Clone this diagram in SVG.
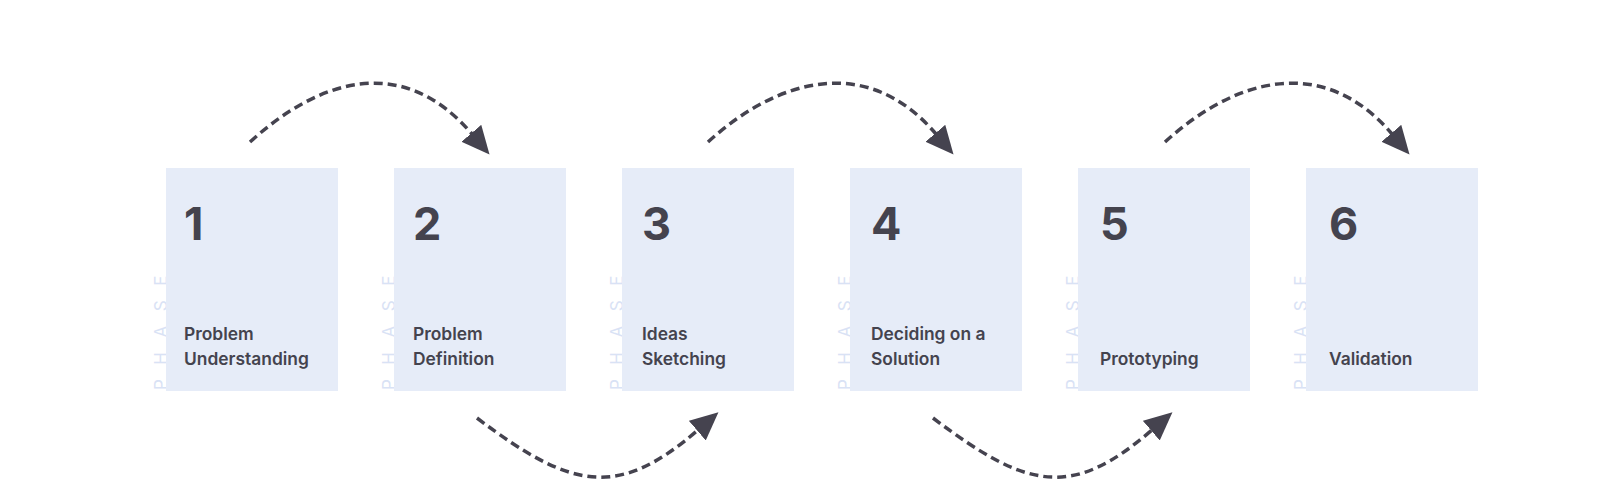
<svg xmlns="http://www.w3.org/2000/svg" width="1600" height="480" viewBox="0 0 1600 480">
  <style>
    .box { fill: #e6ecf8; }
    .phase { font-family: Inter, "Noto Sans", "DejaVu Sans", sans-serif; font-size: 17px; font-weight: 400; letter-spacing: 14.5px; fill: #d9e2f5; }
    .num { font-family: Inter, "Noto Sans", "DejaVu Sans", sans-serif; font-size: 45px; font-weight: 700; fill: #44434e; }
    .lbl { font-family: Inter, "Noto Sans", "DejaVu Sans", sans-serif; font-size: 17.4px; font-weight: 600; fill: #44434e; }
    .conn { fill: none; stroke: #45434f; stroke-width: 3.5; stroke-dasharray: 9 5; marker-end: url(#head); }
  </style>
  <defs>
    <marker id="head" markerUnits="userSpaceOnUse" viewBox="0 0 28 26" markerWidth="28" markerHeight="26" refX="1" refY="13" orient="auto">
      <path d="M0,0 L28,13 L0,26 z" fill="#45434f"/>
    </marker>
  </defs>
  <rect width="1600" height="480" fill="#ffffff"/>

  <g id="phase1">
    <text class="phase" transform="translate(167,390) rotate(-90)">PHASE</text>
    <rect class="box" x="166" y="168" width="172" height="223"/>
    <text class="num" x="184" y="240">1</text>
    <text class="lbl" x="184" y="340">Problem</text>
    <text class="lbl" x="184" y="365">Understanding</text>
  </g>
  <g id="phase2">
    <text class="phase" transform="translate(395,390) rotate(-90)">PHASE</text>
    <rect class="box" x="394" y="168" width="172" height="223"/>
    <text class="num" x="413" y="240">2</text>
    <text class="lbl" x="413" y="340">Problem</text>
    <text class="lbl" x="413" y="365">Definition</text>
  </g>
  <g id="phase3">
    <text class="phase" transform="translate(623,390) rotate(-90)">PHASE</text>
    <rect class="box" x="622" y="168" width="172" height="223"/>
    <text class="num" x="642" y="240">3</text>
    <text class="lbl" x="642" y="340">Ideas</text>
    <text class="lbl" x="642" y="365">Sketching</text>
  </g>
  <g id="phase4">
    <text class="phase" transform="translate(851,390) rotate(-90)">PHASE</text>
    <rect class="box" x="850" y="168" width="172" height="223"/>
    <text class="num" x="871" y="240">4</text>
    <text class="lbl" x="871" y="340">Deciding on a</text>
    <text class="lbl" x="871" y="365">Solution</text>
  </g>
  <g id="phase5">
    <text class="phase" transform="translate(1079,390) rotate(-90)">PHASE</text>
    <rect class="box" x="1078" y="168" width="172" height="223"/>
    <text class="num" x="1100" y="240">5</text>
    <text class="lbl" x="1100" y="365">Prototyping</text>
  </g>
  <g id="phase6">
    <text class="phase" transform="translate(1307,390) rotate(-90)">PHASE</text>
    <rect class="box" x="1306" y="168" width="172" height="223"/>
    <text class="num" x="1329" y="240">6</text>
    <text class="lbl" x="1329" y="365">Validation</text>
  </g>

  <g id="connectors">
    <path class="conn" d="M250,142 C318,80 402,52 472,134"/>
    <path class="conn" d="M708,142 C776,80 866,52 936,134"/>
    <path class="conn" d="M1165,142 C1233,80 1322,52 1392,134"/>
    <path class="conn" d="M477,418 C572,490 618,499 698,430"/>
    <path class="conn" d="M933,418 C1028,490 1072,499 1152,430"/>
  </g>
</svg>
